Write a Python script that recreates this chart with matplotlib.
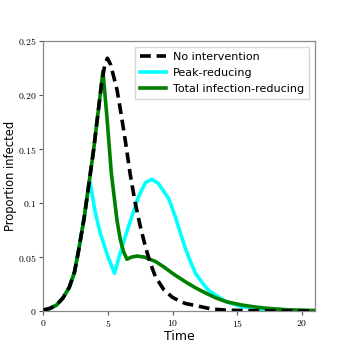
import matplotlib
matplotlib.use("Agg")
import matplotlib.pyplot as plt

# --- data ---
t_none = [0, 0.5, 1.0, 1.5, 2.0, 2.4, 2.72, 3.16, 3.52, 3.88, 4.19, 4.5, 4.75, 4.95, 5.2,
          5.69, 6.0, 6.33, 6.72, 7.1, 7.5, 7.88, 8.25, 8.66, 9.3, 9.95, 10.5, 11.0, 11.76,
          13, 14.09, 16, 21]
y_none = [0.001, 0.0025, 0.0055, 0.012, 0.022, 0.036, 0.056, 0.087, 0.118, 0.149, 0.18,
          0.211, 0.228, 0.234, 0.228, 0.205, 0.183, 0.158, 0.126, 0.1, 0.078, 0.06, 0.045,
          0.032, 0.02, 0.013, 0.0095, 0.007, 0.0052, 0.002, 0.001, 0.0004, 0.0001]

t_peak = [0, 0.5, 1.0, 1.5, 2.0, 2.4, 2.72, 3.16, 3.52, 3.6, 4.0, 4.4, 5.0, 5.5, 5.9, 6.33,
          6.85, 7.36, 7.9, 8.4, 8.9, 9.69, 10.21, 10.6, 10.98, 11.4, 11.76, 12.3, 12.79,
          14.09, 15.38, 17, 19, 21]
y_peak = [0.001, 0.0025, 0.0055, 0.012, 0.022, 0.036, 0.056, 0.087, 0.118, 0.12, 0.092,
          0.072, 0.05, 0.035, 0.052, 0.069, 0.088, 0.106, 0.119, 0.122, 0.118, 0.104, 0.087,
          0.072, 0.058, 0.045, 0.035, 0.026, 0.019, 0.009, 0.004, 0.0015, 0.0006, 0.0003]

t_total = [0, 0.5, 1.0, 1.5, 2.0, 2.4, 2.72, 3.16, 3.52, 3.88, 4.19, 4.5, 4.6, 4.91, 5.25,
           5.69, 5.95, 6.2, 6.46, 6.8, 7.24, 7.8, 8.66, 9.3, 10.1, 11.0, 11.76, 12.5, 13.31,
           14.2, 15.38, 16.4, 17.4, 19, 21]
y_total = [0.001, 0.0025, 0.0055, 0.012, 0.022, 0.036, 0.056, 0.087, 0.118, 0.149, 0.18,
           0.211, 0.222, 0.18, 0.128, 0.084, 0.066, 0.055, 0.048, 0.05, 0.051, 0.05, 0.046,
           0.041, 0.034, 0.027, 0.0216, 0.017, 0.0124, 0.0085, 0.0056, 0.0038, 0.0025,
           0.0012, 0.0006]

labels = ["No intervention", "Peak-reducing", "Total infection-reducing"]
x_ticks = [0, 5, 10, 15, 20]
x_ticklabels = ["0", "5", "10", "15", "20"]
y_ticks = [0, 0.05, 0.1, 0.15, 0.2, 0.25]
y_ticklabels = ["0", "0.05", "0.1", "0.15", "0.20", "0.25"]

plt.rcParams['mathtext.fontset'] = 'cm'

fig = plt.figure(figsize=(3.5, 3.5), dpi=100)
ax = fig.add_axes([0.124, 0.111, 0.776, 0.772])

ax.plot(t_none, y_none, color='black', lw=2.6, ls=(0, (3, 1.6)), label=labels[0], zorder=3)
ax.plot(t_peak, y_peak, color='#00FFFF', lw=2.6, label=labels[1], zorder=2)
ax.plot(t_total, y_total, color='green', lw=2.6, label=labels[2], zorder=2)

ax.set_xlim(0, 21)
ax.set_ylim(0, 0.25)
ax.set_xticks(x_ticks)
ax.set_xticklabels(["$" + s + "$" for s in x_ticklabels], fontsize=7)
ax.set_yticks(y_ticks)
ax.set_yticklabels(["$" + s + "$" for s in y_ticklabels], fontsize=7)
ax.tick_params(length=3, width=0.8, color='#555555', pad=2)
for sp in ax.spines.values():
    sp.set_color('#888888')
    sp.set_linewidth(0.9)

ax.set_xlabel("Time", fontsize=9, labelpad=1)
ax.set_ylabel("Proportion infected", fontsize=8.3)
ax.yaxis.set_label_coords(-0.098, 0.5)

leg = ax.legend(loc='upper right', fontsize=8.0, frameon=True, fancybox=False,
                edgecolor='#cccccc', handlelength=2.3, handletextpad=0.7,
                borderaxespad=0.5, labelspacing=0.55, borderpad=0.45)

fig.savefig("out.png", dpi=100)
